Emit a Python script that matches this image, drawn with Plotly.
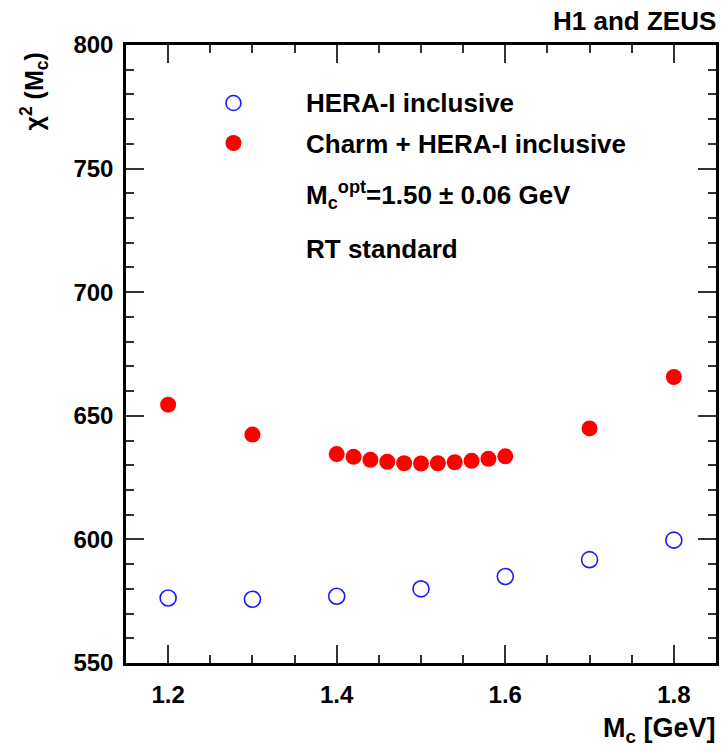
import plotly.graph_objects as go

# Data
mc_incl = [1.2, 1.3, 1.4, 1.5, 1.6, 1.7, 1.8]
chi2_incl = [576.3, 575.8, 577.0, 580.0, 585.0, 591.8, 599.7]

mc_charm = [1.2, 1.3, 1.4, 1.42, 1.44, 1.46, 1.48, 1.50, 1.52, 1.54, 1.56, 1.58, 1.6, 1.7, 1.8]
chi2_charm = [654.5, 642.4, 634.5, 633.4, 632.2, 631.4, 630.8, 630.7, 630.8, 631.2,
              631.8, 632.6, 633.6, 644.9, 665.7]

x_ticks = [1.2, 1.4, 1.6, 1.8]
y_ticks = [550, 600, 650, 700, 750, 800]

FONT = "Liberation Sans"
W, H = 722, 752
L, R, T, B = 126, 3, 45, 89
PW, PH = W - L - R, H - T - B

def px(xp):
    return (xp - L) / PW

def py(yp):
    return 1 - (yp - T) / PH

fig = go.Figure()
fig.add_trace(go.Scatter(
    x=mc_incl, y=chi2_incl, mode="markers", name="HERA-I inclusive",
    marker=dict(symbol="circle-open", size=16, color="#1a1aff", line=dict(width=1.6, color="#1a1aff")),
    showlegend=False))
fig.add_trace(go.Scatter(
    x=mc_charm, y=chi2_charm, mode="markers", name="Charm + HERA-I inclusive",
    marker=dict(symbol="circle", size=16, color="#ff0000", line=dict(width=0)),
    showlegend=False))

axis_common = dict(
    showline=True, linewidth=2.5, linecolor="black", mirror="allticks",
    ticks="inside", ticklen=18, tickwidth=1.5, tickcolor="#333333",
    showgrid=False, zeroline=False,
    tickfont=dict(family=FONT, size=24, color="black", weight="bold"),
)
fig.update_xaxes(range=[1.15, 1.85], tickvals=x_ticks, ticktext=[f"{v:.1f}" for v in x_ticks],
                 minor=dict(dtick=0.05, ticks="inside", ticklen=8, tickwidth=1.5, tickcolor="#333333", showgrid=False),
                 ticklabelstandoff=8, **axis_common)
fig.update_yaxes(range=[550, 800], tickvals=y_ticks, ticktext=[str(v) for v in y_ticks],
                 minor=dict(dtick=10, ticks="inside", ticklen=8, tickwidth=1.5, tickcolor="#333333", showgrid=False),
                 ticklabelstandoff=5, **axis_common)

def f(size):
    return dict(family=FONT, size=size, color="black", weight="bold")

annotations = [
    dict(text="H1 and ZEUS", x=px(721), y=py(21), xanchor="right", yanchor="middle", font=f(26)),
    dict(text="M<sub>c</sub> [GeV]", x=px(721), y=py(730), xanchor="right", yanchor="middle", font=f(27)),
    dict(text="χ<sup>2</sup> (M<sub>c</sub>)", x=px(34), y=py(91), xanchor="center", yanchor="middle",
         textangle=-90, font=f(25)),
    dict(text="HERA-I inclusive", x=px(305), y=py(103), xanchor="left", yanchor="middle", font=f(26)),
    dict(text="Charm + HERA-I inclusive", x=px(305), y=py(144), xanchor="left", yanchor="middle", font=f(26)),
    dict(text="M<sub>c</sub><sup>opt</sup>=1.50 ± 0.06 GeV", x=px(305), y=py(195), xanchor="left",
         yanchor="middle", font=f(26)),
    dict(text="RT standard", x=px(305), y=py(249), xanchor="left", yanchor="middle", font=f(26)),
]
for a in annotations:
    a.update(xref="paper", yref="paper", showarrow=False)

shapes = [
    dict(type="circle", xref="paper", yref="paper", xsizemode="pixel", ysizemode="pixel",
         xanchor=px(234), yanchor=py(103), x0=-7.5, x1=7.5, y0=-7.5, y1=7.5,
         line=dict(color="#1a1aff", width=1.6), fillcolor="rgba(0,0,0,0)"),
    dict(type="circle", xref="paper", yref="paper", xsizemode="pixel", ysizemode="pixel",
         xanchor=px(234), yanchor=py(143), x0=-8, x1=8, y0=-8, y1=8,
         line=dict(color="#ff0000", width=0), fillcolor="#ff0000"),
]

fig.update_layout(
    width=W, height=H, margin=dict(l=L, r=R, t=T, b=B, pad=0),
    paper_bgcolor="white", plot_bgcolor="white",
    font=dict(family=FONT, size=24, color="black"),
    annotations=annotations, shapes=shapes, showlegend=False,
)

fig.write_html("out.html")
